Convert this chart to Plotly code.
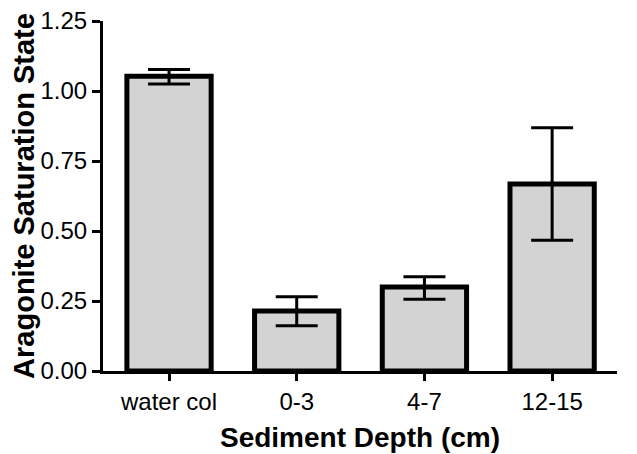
import plotly.graph_objects as go

categories = ["water col", "0-3", "4-7", "12-15"]
means = [1.053, 0.214, 0.300, 0.668]
err_plus = [0.024, 0.051, 0.037, 0.201]
err_minus = [0.028, 0.052, 0.044, 0.201]
y_ticks = [0.0, 0.25, 0.5, 0.75, 1.0, 1.25]
y_tick_labels = ["0.00", "0.25", "0.50", "0.75", "1.00", "1.25"]

font_family = "Liberation Sans, Arial, sans-serif"

fig = go.Figure()
fig.add_trace(go.Bar(
    x=list(range(len(categories))),
    y=means,
    width=0.66,
    marker=dict(color="#d3d3d3", line=dict(color="black", width=5)),
    error_y=dict(type="data", symmetric=False, array=err_plus, arrayminus=err_minus,
                 color="black", thickness=3, width=21),
    showlegend=False,
))

# the page body adds an 8px offset, so margins are compensated
fig.update_layout(
    width=637, height=454,
    margin=dict(l=95, r=28, t=13, b=91),
    paper_bgcolor="white", plot_bgcolor="white",
    font=dict(family=font_family, color="black"),
    xaxis=dict(
        range=[-0.517, 3.508], automargin=False,
        tickmode="array", tickvals=list(range(len(categories))), ticktext=categories,
        showline=True, linecolor="black", linewidth=3,
        ticks="outside", ticklen=7, tickwidth=3, tickcolor="black",
        showgrid=False, zeroline=False, ticklabeloverflow="allow",
        tickfont=dict(size=24, family=font_family, color="black"),
        title=dict(text="<b>Sediment Depth (cm)</b>", standoff=14,
                   font=dict(size=28, family=font_family, color="black")),
    ),
    yaxis=dict(
        range=[0, 1.25], automargin=False,
        tickmode="array", tickvals=y_ticks, ticktext=y_tick_labels,
        showline=True, linecolor="black", linewidth=3,
        ticks="outside", ticklen=8, tickwidth=3, tickcolor="black",
        showgrid=False, zeroline=False, ticklabeloverflow="allow",
        tickfont=dict(size=24, family=font_family, color="black"),
        title=dict(text="<b>Aragonite Saturation State</b>", standoff=2,
                   font=dict(size=29, family=font_family, color="black")),
    ),
)

fig.write_html("out.html")
